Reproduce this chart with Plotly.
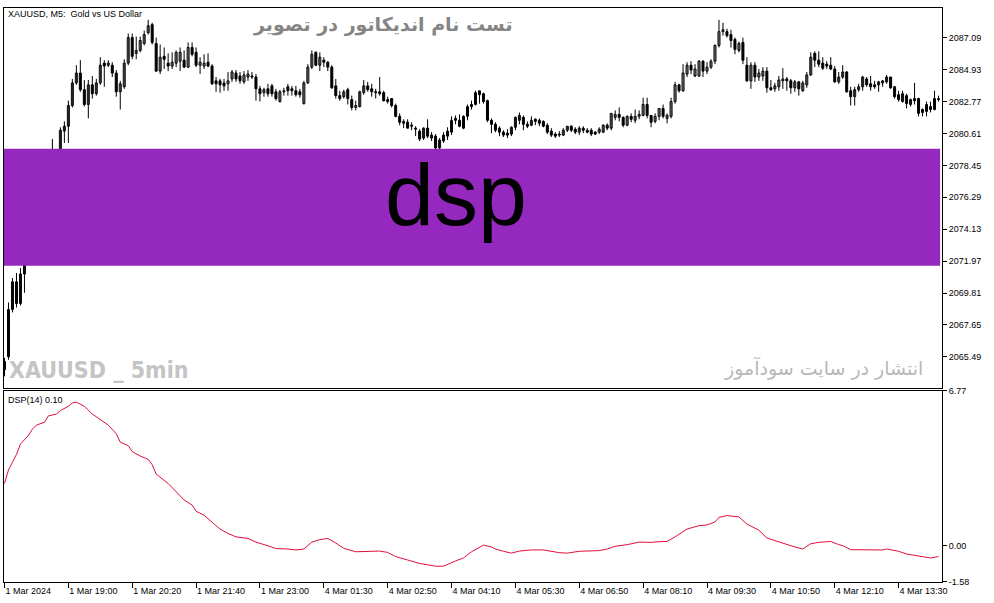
import plotly.graph_objects as go
from plotly.subplots import make_subplots

opens = [2065.17,2065.5,2068.7,2070.57,2069.1,2071.1,2072.97,2074.2,2073.6,2075.3,
2076.6,2076.1,2077.8,2078.9,2078.3,2080.77,2081.1,2082.5,2084.03,2084.7,
2083.57,2082.57,2083.9,2083.3,2084.03,2085.37,2085.23,2085.23,2084.7,2083.43,
2083.77,2085.37,2087.1,2086.03,2086.23,2086.7,2087.43,2087.97,2086.7,2084.83,
2085.83,2085.37,2085.17,2085.37,2085.5,2085.57,2085.1,2086.43,2086.1,2085.23,
2085.17,2085.43,2085.17,2084.17,2084.17,2084.03,2083.97,2084.3,2084.7,2084.5,
2084.1,2084.43,2084.5,2084.43,2083.63,2083.37,2083.63,2083.83,2083.43,2082.77,
2083.43,2083.77,2083.63,2083.5,2083.43,2082.63,2084.03,2085.1,2086.1,2085.23,
2085.57,2085.43,2085.1,2083.83,2083.17,2083.1,2083.57,2082.9,2082.37,2082.43,
2083.37,2083.83,2083.63,2083.43,2083.43,2083.37,2082.9,2082.97,2082.5,2081.77,
2081.3,2081.37,2081.17,2080.97,2080.77,2080.3,2080.97,2080.3,2080.43,2079.63,
2080.1,2080.43,2080.7,2081.5,2081.5,2080.97,2081.77,2082.43,2082.57,2083.23,
2083.3,2082.83,2081.5,2081.23,2080.97,2080.7,2080.63,2080.57,2081.03,2081.5,
2081.7,2081.23,2081.17,2081.57,2081.5,2081.43,2081.17,2080.77,2080.57,2080.57,
2080.5,2080.83,2081.1,2080.9,2080.7,2080.97,2080.83,2080.83,2080.7,2080.7,
2080.7,2081.17,2080.97,2081.7,2081.9,2081.7,2081.17,2081.77,2081.5,2081.77,
2081.83,2082.57,2081.83,2081.43,2081.77,2082.3,2081.63,2081.77,2082.77,2083.9,
2083.5,2084.63,2085.23,2084.5,2084.5,2085.5,2084.83,2085.1,2085.5,2086.57,
2087.5,2087.5,2087.3,2086.97,2086.23,2086.77,2085.23,2084.17,2085.23,2084.43,
2084.5,2084.83,2083.7,2083.63,2083.77,2084.17,2084.3,2084.17,2083.7,2084.1,
2083.5,2083.9,2084.57,2086.03,2085.57,2085.37,2085.3,2085.23,2084.97,2084.1,
2084.43,2084.77,2083.5,2083.1,2083.57,2083.77,2084.3,2083.97,2083.9,2083.9,
2084.03,2084.1,2084.43,2083.77,2083.23,2082.77,2083.17,2082.57,2082.97,2082.97,
2082.23,2082.1,2082.23,2082.23,2082.9]

highs = [2065.43,2069.17,2070.83,2071.17,2071.5,2073.63,2074.6,2074.9,2075.7,2077.0,
2077.3,2078.2,2080.23,2079.4,2081.03,2081.43,2082.83,2084.3,2085.23,2085.57,
2084.23,2084.23,2084.5,2084.3,2085.77,2085.57,2085.57,2085.43,2084.9,2084.17,
2085.63,2087.37,2087.37,2087.17,2087.17,2087.57,2088.3,2088.1,2087.1,2086.63,
2086.43,2086.03,2086.1,2086.23,2086.43,2086.23,2086.77,2086.77,2086.43,2085.77,
2085.97,2086.03,2085.3,2084.43,2084.3,2084.3,2084.77,2084.9,2084.9,2084.77,
2084.83,2084.9,2084.77,2084.63,2083.83,2083.7,2083.97,2083.97,2083.63,2083.57,
2083.7,2083.97,2083.83,2083.83,2083.63,2084.17,2085.3,2086.23,2086.17,2086.1,
2085.77,2085.5,2085.23,2084.3,2083.5,2083.57,2083.7,2083.17,2082.83,2083.5,
2084.23,2084.1,2083.97,2083.63,2084.43,2083.5,2083.1,2082.97,2082.63,2081.97,
2081.57,2081.57,2081.37,2081.1,2080.9,2081.03,2081.57,2080.7,2080.57,2080.3,
2080.7,2081.03,2081.77,2081.83,2081.9,2081.83,2082.57,2082.83,2083.5,2083.5,
2083.37,2082.9,2081.63,2081.37,2081.1,2080.83,2080.9,2081.1,2081.77,2082.03,
2081.83,2081.43,2081.77,2081.63,2081.63,2081.5,2081.3,2080.97,2080.7,2080.77,
2080.97,2081.1,2081.17,2081.03,2081.1,2081.1,2080.97,2080.97,2080.77,2081.03,
2081.23,2081.3,2081.97,2082.17,2082.37,2081.77,2081.83,2081.97,2082.23,2082.17,
2083.03,2083.03,2081.83,2081.97,2082.3,2082.57,2081.97,2083.03,2084.1,2083.97,
2085.3,2085.43,2085.5,2085.3,2085.57,2085.57,2085.43,2085.63,2086.63,2088.3,
2088.1,2087.7,2087.63,2087.1,2086.83,2087.1,2085.77,2085.43,2085.43,2084.97,
2085.1,2085.1,2084.23,2084.03,2084.5,2085.03,2084.43,2084.3,2084.23,2084.17,
2084.17,2084.77,2086.1,2086.17,2086.17,2085.77,2085.5,2085.77,2085.17,2084.77,
2085.23,2084.83,2083.77,2083.77,2083.97,2084.5,2084.43,2084.5,2084.17,2084.17,
2084.23,2084.57,2084.43,2083.83,2083.5,2083.5,2083.3,2082.97,2084.03,2083.03,
2082.3,2082.77,2082.77,2083.5,2083.17]

lows = [2064.17,2065.3,2068.5,2068.83,2068.97,2069.83,2072.5,2073.2,2073.3,2075.0,
2075.7,2075.9,2077.5,2077.9,2078.0,2079.97,2079.97,2082.37,2083.9,2083.43,
2082.43,2081.63,2082.97,2083.17,2083.9,2083.77,2085.1,2084.43,2083.1,2082.23,
2083.63,2085.23,2085.63,2085.63,2086.1,2086.57,2087.3,2086.63,2084.77,2084.63,
2084.97,2084.83,2084.97,2085.1,2084.83,2085.03,2085.03,2085.83,2085.1,2084.63,
2084.97,2085.1,2083.9,2083.43,2083.37,2083.5,2083.5,2084.1,2084.1,2083.97,
2083.97,2084.17,2084.3,2082.83,2082.77,2083.1,2083.1,2083.1,2082.83,2082.7,
2083.17,2083.17,2083.17,2083.1,2083.03,2082.57,2083.97,2084.97,2085.17,2084.83,
2085.1,2084.83,2083.63,2082.97,2082.83,2082.97,2082.57,2082.17,2082.17,2082.37,
2083.23,2083.43,2083.1,2082.97,2083.17,2082.77,2082.63,2082.37,2081.7,2081.17,
2080.97,2080.97,2080.83,2080.43,2080.1,2080.17,2080.3,2080.1,2079.5,2079.5,
2079.97,2080.17,2080.5,2081.23,2081.03,2080.9,2081.5,2082.23,2082.5,2082.63,
2082.63,2081.37,2080.63,2080.7,2080.43,2080.37,2080.3,2080.43,2080.83,2081.23,
2080.83,2080.97,2081.1,2081.17,2081.1,2081.03,2080.57,2080.37,2080.3,2080.37,
2080.43,2080.7,2080.7,2080.57,2080.5,2080.63,2080.63,2080.43,2080.5,2080.57,
2080.63,2080.83,2080.83,2081.5,2081.43,2081.03,2081.1,2081.37,2081.3,2081.57,
2081.77,2081.63,2081.03,2081.3,2081.5,2081.63,2081.3,2081.63,2082.63,2083.37,
2083.43,2084.43,2084.63,2084.43,2084.43,2084.43,2084.63,2084.97,2085.3,2086.43,
2087.23,2087.1,2086.43,2085.97,2086.1,2085.3,2084.1,2083.63,2084.1,2084.17,
2084.17,2083.37,2083.5,2083.43,2083.5,2083.63,2083.5,2083.3,2083.43,2083.17,
2083.43,2083.7,2084.5,2085.1,2085.1,2084.9,2084.97,2084.9,2084.03,2083.97,
2084.3,2083.37,2082.5,2082.5,2083.43,2083.5,2083.77,2083.5,2083.63,2083.43,
2083.77,2083.97,2083.63,2082.97,2082.77,2082.7,2082.3,2082.43,2082.57,2081.77,
2081.77,2081.77,2082.03,2082.17,2082.77]

closes = [2064.63,2068.7,2070.57,2069.1,2071.1,2072.97,2074.2,2073.6,2075.3,2076.6,
2076.1,2077.8,2078.9,2078.3,2080.83,2081.1,2082.5,2084.03,2084.7,2083.57,
2082.57,2083.9,2083.3,2084.03,2085.23,2085.17,2085.37,2084.7,2083.43,2083.97,
2085.37,2087.1,2085.83,2086.23,2086.9,2087.3,2087.9,2086.77,2084.83,2085.77,
2085.63,2085.17,2085.43,2086.1,2086.1,2085.1,2086.43,2085.97,2085.23,2085.43,
2085.37,2085.17,2083.97,2083.97,2083.9,2083.83,2084.17,2084.77,2084.3,2084.17,
2084.57,2084.63,2084.43,2083.63,2083.3,2083.57,2083.3,2083.3,2082.97,2083.43,
2083.5,2083.5,2083.5,2083.23,2083.23,2084.03,2085.1,2085.97,2085.23,2085.77,
2085.43,2085.1,2083.7,2083.17,2082.97,2083.43,2082.97,2082.37,2082.5,2083.43,
2083.83,2083.57,2083.43,2083.37,2083.3,2082.83,2082.77,2082.5,2081.77,2081.37,
2081.43,2080.97,2081.1,2080.9,2080.23,2080.97,2080.43,2080.5,2079.63,2080.17,
2080.5,2080.77,2081.5,2081.63,2081.1,2081.77,2082.43,2082.57,2083.37,2083.5,
2082.77,2081.5,2081.23,2080.83,2080.7,2080.5,2080.5,2081.03,2081.7,2081.83,
2081.23,2081.1,2081.5,2081.43,2081.3,2081.1,2080.7,2080.5,2080.43,2080.5,
2080.83,2081.1,2080.83,2080.7,2080.97,2080.83,2080.7,2080.57,2080.57,2080.9,
2081.17,2080.97,2081.97,2081.9,2081.7,2081.17,2081.77,2081.57,2081.77,2081.9,
2082.57,2081.83,2081.37,2081.77,2082.3,2081.77,2081.83,2082.77,2083.9,2083.5,
2084.7,2085.23,2084.9,2084.97,2085.5,2084.83,2085.1,2085.5,2086.57,2087.5,
2087.63,2087.23,2086.9,2086.3,2086.7,2085.57,2084.17,2085.23,2084.43,2084.7,
2084.83,2083.7,2083.57,2083.83,2084.23,2084.3,2084.17,2083.7,2084.1,2083.63,
2084.03,2084.57,2085.77,2085.57,2085.3,2085.03,2085.17,2084.97,2084.1,2084.43,
2084.77,2083.43,2083.1,2083.57,2083.77,2084.43,2083.9,2083.77,2083.77,2084.1,
2084.17,2084.43,2083.7,2083.1,2082.9,2083.3,2082.63,2082.9,2082.83,2081.97,
2082.03,2082.57,2082.43,2082.97,2082.97]

dsp_idx = [0,1,2,3,4,6,7,8,10,11,13,14,16,17,18,20,22,24,26,28,29,31,32,34,36,37,38,
41,43,45,47,48,50,52,54,56,58,61,63,66,68,71,73,75,77,79,81,83,85,88,91,94,96,98,
101,104,108,110,113,115,117,120,122,123,125,127,129,132,135,139,141,144,149,151,
153,156,159,162,164,166,168,171,174,176,178,179,181,184,186,189,191,194,196,198,
200,202,204,207,209,210,212,215,220,221,224,226,229,232,234]
dsp_val = [2.72,3.31,3.65,3.99,4.44,4.82,5.09,5.27,5.39,5.67,5.75,5.9,6.09,6.24,6.27,
6.09,5.75,5.52,5.27,4.89,4.52,4.37,4.11,3.92,3.77,3.54,3.13,2.72,2.34,2.0,1.78,1.51,
1.33,1.04,0.73,0.54,0.39,0.32,0.16,0.0,-0.12,-0.14,-0.18,-0.14,0.16,0.27,0.32,0.12,
-0.11,-0.26,-0.23,-0.23,-0.29,-0.47,-0.62,-0.77,-0.89,-0.89,-0.66,-0.53,-0.26,0.03,
-0.05,-0.14,-0.24,-0.32,-0.23,-0.18,-0.18,-0.30,-0.32,-0.24,-0.21,-0.14,-0.02,0.05,
0.16,0.15,0.18,0.19,0.39,0.73,0.88,0.91,1.04,1.24,1.32,1.26,0.95,0.68,0.34,0.16,
0.06,-0.05,-0.14,0.09,0.15,0.19,0.05,0.01,-0.17,-0.18,-0.18,-0.14,-0.24,-0.36,
-0.44,-0.53,-0.47]

time_tick_idx = [0,16,32,48,64,80,96,112,128,144,160,176,192,208,224]
time_tick_text = ["1 Mar 2024","1 Mar 19:00","1 Mar 20:20","1 Mar 21:40","1 Mar 23:00",
                  "4 Mar 01:30","4 Mar 02:50","4 Mar 04:10","4 Mar 05:30","4 Mar 06:50",
                  "4 Mar 08:10","4 Mar 09:30","4 Mar 10:50","4 Mar 12:10","4 Mar 13:30"]
price_ticks = [2065.49,2067.65,2069.81,2071.97,2074.13,2076.29,2078.45,2080.61,
               2082.77,2084.93,2087.09]
dsp_ticks = [6.77,0.00,-1.58]

bar_index = list(range(len(opens)))

# wicks: one vertical segment per bar (low -> high)
wick_x, wick_y = [], []
for i, lo, hi in zip(bar_index, lows, highs):
    wick_x += [i, i, None]
    wick_y += [lo, hi, None]

up = [i for i in bar_index if closes[i] >= opens[i]]
dn = [i for i in bar_index if closes[i] < opens[i]]

fig = make_subplots(rows=2, cols=1, shared_xaxes=True, vertical_spacing=0.004)

fig.add_trace(go.Scatter(x=wick_x, y=wick_y, mode="lines",
                         line=dict(color="black", width=1), showlegend=False,
                         hoverinfo="skip"), row=1, col=1)
fig.add_trace(go.Bar(x=up, base=[opens[i] for i in up],
                     y=[closes[i] - opens[i] for i in up], width=0.5,
                     marker=dict(color="white", line=dict(color="black", width=1)),
                     showlegend=False, hoverinfo="skip"), row=1, col=1)
fig.add_trace(go.Bar(x=dn, base=[closes[i] for i in dn],
                     y=[opens[i] - closes[i] for i in dn], width=0.5,
                     marker=dict(color="black", line=dict(color="black", width=1)),
                     showlegend=False, hoverinfo="skip"), row=1, col=1)

fig.add_trace(go.Scatter(
    x=dsp_idx, y=dsp_val, mode="lines",
    line=dict(color="#e0103c", width=1), showlegend=False, hoverinfo="skip"),
    row=2, col=1)

fig.add_hline(y=0, line=dict(color="#c0c0c0", width=1, dash="dash"), row=2, col=1)

axis_common = dict(showgrid=False, zeroline=False, showline=True, mirror=True,
                   linecolor="black", linewidth=1)
fig.update_xaxes(range=[-0.125, 234.875], **axis_common)
fig.update_xaxes(showticklabels=False, ticks="", row=1, col=1)
fig.update_xaxes(tickvals=time_tick_idx, ticktext=time_tick_text, ticks="outside",
                 ticklen=5, tickcolor="black", ticklabelposition="outside right",
                 tickfont=dict(size=9), row=2, col=1)

fig.update_yaxes(side="right", ticks="outside", ticklen=4, tickcolor="black",
                 tickfont=dict(size=9), **axis_common)
fig.update_yaxes(range=[2063.36, 2089.10], tickvals=price_ticks,
                 ticktext=[f"{v:.2f}" for v in price_ticks], row=1, col=1)
fig.update_yaxes(range=[-1.58, 6.77], tickvals=dsp_ticks,
                 ticktext=[f"{v:.2f}" for v in dsp_ticks], row=2, col=1)

fig.update_layout(
    width=994, height=603,
    margin=dict(l=4, r=52, t=3, b=21),
    paper_bgcolor="white", plot_bgcolor="white",
    barmode="overlay",
    font=dict(family="Liberation Sans, Arial, sans-serif", size=9, color="black"),
    yaxis=dict(domain=[0.3373, 1.0]),
    yaxis2=dict(domain=[0.0, 0.3333]),
    shapes=[dict(type="rect", xref="paper", yref="paper", x0=0.0, x1=0.998,
                 y0=0.551, y1=0.7547, fillcolor="#9528bf", line=dict(width=0),
                 layer="above")],
)

annotations = [
    dict(text="XAUUSD, M5:  Gold vs US Dollar", x=0.002, y=0.9888, xanchor="left",
         yanchor="middle", font=dict(size=9, color="black")),
    dict(text="<b>تست نام اندیکاتور در تصویر</b>", x=0.404, y=0.971, xanchor="center",
         yanchor="middle", font=dict(family="DejaVu Sans", size=19, color="#858585")),
    dict(text="dsp", x=0.4819, y=0.6744, xanchor="center", yanchor="middle",
         font=dict(family="Liberation Sans, Arial", size=88, color="black")),
    dict(text="<b>XAUUSD _ 5min</b>", x=0.003, y=0.37, xanchor="left", yanchor="middle",
         font=dict(family="Liberation Sans Narrow, DejaVu Sans Condensed, Liberation Sans",
                   size=23, color="#c4c4c4")),
    dict(text="انتشار در سایت سودآموز", x=0.982, y=0.372, xanchor="right",
         yanchor="middle", font=dict(family="DejaVu Sans", size=19, color="#b8b8b8")),
    dict(text="DSP(14) 0.10", x=0.002, y=0.317, xanchor="left", yanchor="middle",
         font=dict(size=9, color="black")),
]
for a in annotations:
    a.update(xref="paper", yref="paper", showarrow=False)
fig.update_layout(annotations=annotations)

fig.write_html("out.html", config={"displayModeBar": False},
               post_script="document.body.style.margin='0px';")
